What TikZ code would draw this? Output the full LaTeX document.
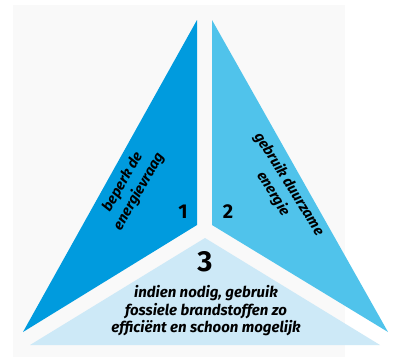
\documentclass[tikz,border=0pt]{standalone}
\usepackage{fontspec}
\setmainfont{Fira Sans}
\definecolor{leftblue}{HTML}{009BDE}
\definecolor{rightblue}{HTML}{50C3EB}
\definecolor{lightblue}{HTML}{CDE9F7}
\definecolor{bggray}{HTML}{F9F9F9}
\begin{document}
\begin{tikzpicture}[x=1pt,y=-1pt,
  lbl/.style={font=\bfseries\itshape\fontsize{14.5}{18.5}\selectfont, align=center, text=black, inner sep=0pt},
  num/.style={font=\bfseries\fontsize{20}{20}\selectfont, text=black, inner sep=0pt},
  bignum/.style={font=\bfseries\fontsize{29}{29}\selectfont, text=black, inner sep=0pt},
  bot/.style={font=\bfseries\itshape\fontsize{15}{17.5}\selectfont, align=center, text=black, inner sep=0pt}]
\useasboundingbox (0,0) rectangle (400,359);
\fill[white] (0,0) rectangle (400,359);
\fill[bggray] (13,5) rectangle (345,357);
% pieces
\fill[leftblue] (197,20) -- (23,332) -- (197,225) -- cycle;
\fill[rightblue] (212,20) -- (388,332) -- (212,225) -- cycle;
\fill[lightblue] (205,238) -- (30,345) -- (380,345) -- cycle;
% labels
\node[lbl, rotate=60] (t1) at (131,187) {beperk de\\energievraag};
\node[lbl, rotate=-58] (t2) at (281,189) {gebruik duurzame\\energie};
\node[num] (n1) at (183,212) {1};
\node[num] (n2) at (228,212) {2};
\node[bignum] (n3) at (205,262) {3};
\node[bot] (t3) at (206,311) {indien nodig, gebruik\\fossiele brandstoffen zo\\efficiënt en schoon mogelijk};
\end{tikzpicture}
\end{document}
